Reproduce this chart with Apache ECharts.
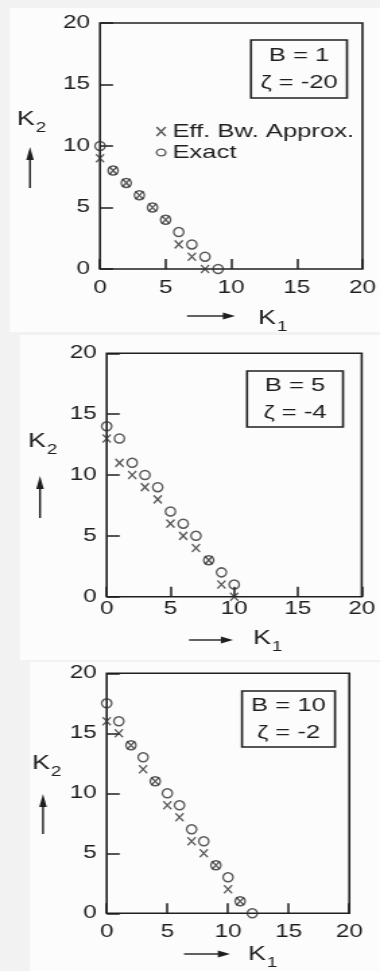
<!DOCTYPE html>
<html>
<head>
<meta charset="utf-8">
<script src="https://cdn.jsdelivr.net/npm/echarts@6/dist/echarts.min.js"></script>
<style>
  html, body { margin: 0; padding: 0; background: #f2f2f2; width: 380px; height: 971px; overflow: hidden; }
  /* The chart is drawn on a narrower canvas and widened horizontally to 380px,
     which gives the broad lettering of the printed figure. */
  #chart { width: 282px; height: 971px; transform: scaleX(1.347518); transform-origin: 0 0; }
</style>
</head>
<body>
<div id="chart"></div>
<script>
// Axis ticks shared by every panel (K1 and K2 both run 0..20)
const tickValues = [0, 5, 10, 15, 20];

// Panel 1: B = 1, zeta = -20   ([K1, K2] pairs)
const approxB1 = [[0, 9], [1, 8], [2, 7], [3, 6], [4, 5], [5, 4], [6, 2], [7, 1], [8, 0]];
const exactB1  = [[0, 10], [1, 8], [2, 7], [3, 6], [4, 5], [5, 4], [6, 3], [7, 2], [8, 1], [9, 0]];

// Panel 2: B = 5, zeta = -4
const approxB5 = [[0, 13], [1, 11], [2, 10], [3, 9], [4, 8], [5, 6], [6, 5], [7, 4], [8, 3], [9, 1], [10, 0]];
const exactB5  = [[0, 14], [1, 13], [2, 11], [3, 10], [4, 9], [5, 7], [6, 6], [7, 5], [8, 3], [9, 2], [10, 1]];

// Panel 3: B = 10, zeta = -2
const approxB10 = [[0, 16], [1, 15], [2, 14], [3, 12], [4, 11], [5, 9], [6, 8], [7, 6], [8, 5], [9, 4], [10, 2], [11, 1]];
const exactB10  = [[0, 17.5], [1, 16], [2, 14], [3, 13], [4, 11], [5, 10], [6, 9], [7, 7], [8, 6], [9, 4], [10, 3], [11, 1], [12, 0]];

const approxSets = [approxB1, approxB5, approxB10];
const exactSets = [exactB1, exactB5, exactB10];

// Parameter box captions
const boxLines = [['B = 1', 'ζ = -20'], ['B = 5', 'ζ = -4'], ['B = 10', 'ζ = -2']];

const seriesNames = ['Eff. Bw. Approx.', 'Exact'];

// ---------- layout ----------
const SX = 380 / 282;               // horizontal widening factor
const X = v => v / SX;              // page x -> canvas x
const INK = '#1f1f1f';
const MARK = '#2e2e2e';
const FONT = '"Liberation Sans", Arial, Helvetica, sans-serif';

// plot frame [left, top, right, bottom], parameter box, axis-name positions (page px)
const layout = [
  { frame: [100, 23, 369, 269], xMargin: 10, box: [251, 40, 347, 98], k2: [17, 119], up: [30, 147, 188], k1: [187, 235, 316, 258, 318], bg: [10, 8, 380, 332] },
  { frame: [106.7, 353.3, 361.7, 596.7], xMargin: 3, box: [247, 371, 343, 427], k2: [28, 441], up: [40, 476, 518], k1: [189, 233, 640, 253, 638], bg: [20, 335, 380, 660] },
  { frame: [106.7, 673.3, 349.3, 913.3], xMargin: 10, box: [242, 691, 335, 747], k2: [32, 763], up: [43, 794, 834], k1: [184, 230, 954, 248, 954], bg: [30, 662, 380, 971] }
];

const crossPath = 'path://M0,0L10,10M0,10L10,0';

const grids = [], xAxes = [], yAxes = [], series = [], graphics = [];

layout.forEach((p, i) => {
  const [l, t, r, b] = p.frame;
  graphics.push({
    type: 'rect', z: -10, silent: true,
    shape: { x: X(p.bg[0]), y: p.bg[1], width: X(p.bg[2]) - X(p.bg[0]), height: p.bg[3] - p.bg[1] },
    style: { fill: '#fcfcfc' }
  });

  grids.push({
    left: X(l), top: t, width: X(r) - X(l), height: b - t,
    show: true, borderColor: INK, borderWidth: 1.6, backgroundColor: 'transparent'
  });

  const axisCommon = {
    type: 'value', gridIndex: i,
    min: tickValues[0], max: tickValues[tickValues.length - 1],
    interval: tickValues[1] - tickValues[0],
    axisLine: { show: false },
    splitLine: { show: false },
    axisLabel: { color: INK, fontSize: 18, fontFamily: FONT }
  };
  xAxes.push(Object.assign({}, axisCommon, {
    axisTick: { show: true, inside: true, length: 10, lineStyle: { color: INK, width: 1.5 } },
    axisLabel: Object.assign({}, axisCommon.axisLabel, { margin: p.xMargin })
  }));
  yAxes.push(Object.assign({}, axisCommon, {
    axisTick: { show: true, inside: true, length: X(13), lineStyle: { color: INK, width: 1.5 } },
    axisLabel: Object.assign({}, axisCommon.axisLabel, { margin: X(10) })
  }));

  series.push({
    name: seriesNames[0], type: 'scatter', xAxisIndex: i, yAxisIndex: i,
    data: approxSets[i], symbol: crossPath, symbolKeepAspect: false,
    symbolSize: [X(8), 8],
    itemStyle: { color: 'transparent', borderColor: MARK, borderWidth: 1.4 },
    emphasis: { disabled: true }, z: 3
  });
  series.push({
    name: seriesNames[1], type: 'scatter', xAxisIndex: i, yAxisIndex: i,
    data: exactSets[i], symbol: 'circle',
    symbolSize: [X(10), 9],
    itemStyle: { color: 'transparent', borderColor: MARK, borderWidth: 1.4 },
    emphasis: { disabled: true }, z: 4
  });

  // parameter box
  const [bl, bt, br, bb] = p.box;
  graphics.push({
    type: 'rect', silent: true,
    shape: { x: X(bl), y: bt, width: X(br) - X(bl), height: bb - bt },
    style: { fill: 'none', stroke: INK, lineWidth: 1.6 }
  });
  const cx = X((bl + br) / 2), cy = (bt + bb) / 2;
  boxLines[i].forEach((txt, j) => {
    graphics.push({
      type: 'text', silent: true, x: cx, y: cy + (j === 0 ? -13 : 14),
      style: { text: txt, font: '19px ' + FONT, fill: INK, align: 'center', verticalAlign: 'middle' }
    });
  });

  // K2 name with upward arrow
  graphics.push({
    type: 'text', silent: true, x: X(p.k2[0]), y: p.k2[1],
    style: { text: 'K', font: '20px ' + FONT, fill: INK, align: 'left', verticalAlign: 'middle' }
  });
  graphics.push({
    type: 'text', silent: true, x: X(p.k2[0]) + 14, y: p.k2[1] + 9,
    style: { text: '2', font: '14px ' + FONT, fill: INK, align: 'left', verticalAlign: 'middle' }
  });
  const [ux, uy0, uy1] = p.up;
  graphics.push({
    type: 'line', silent: true,
    shape: { x1: X(ux), y1: uy0 + 8, x2: X(ux), y2: uy1 },
    style: { stroke: INK, lineWidth: 1.4 }
  });
  graphics.push({
    type: 'polygon', silent: true,
    shape: { points: [[X(ux), uy0], [X(ux) - 2.8, uy0 + 13], [X(ux) + 2.8, uy0 + 13]] },
    style: { fill: INK }
  });

  // K1 name with rightward arrow
  const [ax0, ax1, ay, kx, ky] = p.k1;
  graphics.push({
    type: 'line', silent: true,
    shape: { x1: X(ax0), y1: ay, x2: X(ax1) - 6, y2: ay },
    style: { stroke: INK, lineWidth: 1.4 }
  });
  graphics.push({
    type: 'polygon', silent: true,
    shape: { points: [[X(ax1), ay], [X(ax1) - 9, ay - 3.4], [X(ax1) - 9, ay + 3.4]] },
    style: { fill: INK }
  });
  graphics.push({
    type: 'text', silent: true, x: X(kx), y: ky,
    style: { text: 'K', font: '20px ' + FONT, fill: INK, align: 'left', verticalAlign: 'middle' }
  });
  graphics.push({
    type: 'text', silent: true, x: X(kx) + 14, y: ky + 9,
    style: { text: '1', font: '14px ' + FONT, fill: INK, align: 'left', verticalAlign: 'middle' }
  });
});

const chart = echarts.init(document.getElementById('chart'), null, { renderer: 'canvas' });
chart.setOption({
  animation: false,
  backgroundColor: 'transparent',
  grid: grids,
  xAxis: xAxes,
  yAxis: yAxes,
  legend: {
    left: X(149), top: 117, orient: 'vertical', itemGap: 2,
    itemWidth: X(9), itemHeight: 9, symbolKeepAspect: false, selectedMode: false,
    textStyle: { color: INK, fontSize: 19, fontFamily: FONT },
    data: [
      { name: seriesNames[0], icon: crossPath, itemStyle: { color: 'transparent', borderColor: MARK, borderWidth: 1.3 } },
      { name: seriesNames[1], icon: 'circle', itemStyle: { color: 'transparent', borderColor: MARK, borderWidth: 1.3 } }
    ]
  },
  tooltip: { show: false },
  graphic: graphics,
  series: series
});
</script>
</body>
</html>
